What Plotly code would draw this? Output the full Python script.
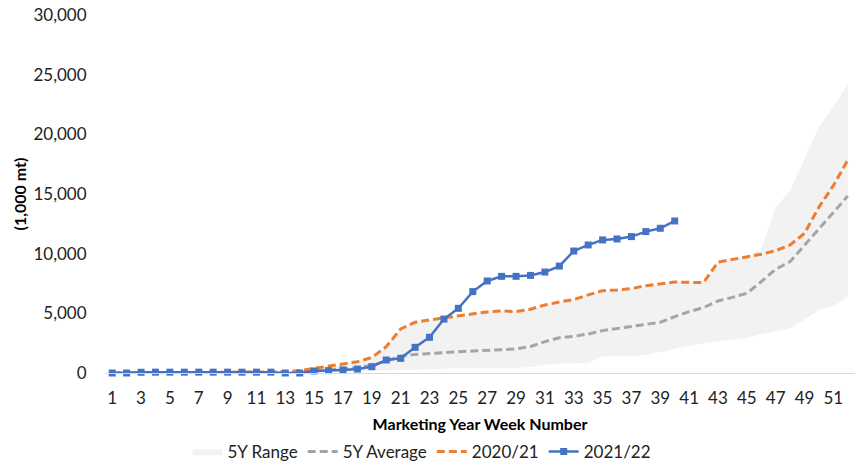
import plotly.graph_objects as go

# Marketing year weeks
weeks = list(range(1, 53))

# 5-year range (lower / upper bound), 1,000 mt
range_low = [0, 0, 0, 0, 0, 0, 0, 0, 0, 0, 0, 0, 0, 0, 50, 80, 100, 120, 150, 200,
             250, 300, 330, 350, 370, 380, 400, 420, 450, 500, 700, 800, 810, 820, 1400, 1410,
             1420, 1510, 1790, 2070, 2290, 2490, 2630, 2770, 2960, 3240, 3460, 3740, 4490, 5280,
             5620, 6400]
range_high = [0, 10, 30, 40, 40, 50, 50, 50, 60, 60, 70, 80, 100, 200, 400, 550, 800, 950, 1300, 2200,
              3700, 4250, 4450, 4620, 4780, 4920, 5120, 5200, 5150, 5350, 5700, 5950, 6150, 6550, 6900, 6960,
              7070, 7320, 7500, 7620, 7600, 7580, 9300, 9520, 9800, 10400, 13900, 15300, 17900, 20600,
              22300, 24200]

# 5-year average
avg_5y = [0, 0, 10, 20, 20, 20, 30, 30, 30, 30, 40, 40, 50, 80, 150, 250, 350, 450, 650, 1000,
          1400, 1560, 1650, 1730, 1790, 1840, 1880, 1950, 2030, 2220, 2630, 2950, 3070, 3270, 3550, 3740,
          3880, 4110, 4250, 4720, 5140, 5480, 6040, 6340, 6680, 7650, 8690, 9330, 10730, 12130,
          13530, 14840]

# 2020/21 season
my_2020 = [0, 10, 30, 40, 40, 50, 50, 50, 60, 60, 70, 80, 100, 200, 400, 550, 800, 950, 1300, 2200,
           3700, 4250, 4450, 4620, 4780, 4920, 5120, 5200, 5150, 5350, 5700, 5950, 6150, 6550, 6900, 6960,
           7070, 7320, 7500, 7620, 7600, 7580, 9300, 9520, 9750, 9950, 10250, 10730, 11700, 13900,
           15700, 17850]

# 2021/22 season (weeks 1-40)
weeks_2021 = list(range(1, 41))
my_2021 = [0, 0, 60, 70, 70, 70, 70, 70, 70, 70, 70, 70, 0, 0, 170, 200, 260, 330, 530, 1090,
           1230, 2150, 2990, 4520, 5420, 6820, 7710, 8100, 8100, 8180, 8460, 8960, 10220, 10730, 11150, 11230,
           11430, 11850, 12130, 12740]

y_ticks = [0, 5000, 10000, 15000, 20000, 25000, 30000]
x_ticks = list(range(1, 53, 2))

FONT = "Lato"

fig = go.Figure()

fig.add_trace(go.Scatter(
    x=weeks, y=range_low, mode="lines", line=dict(width=0, color="#F2F2F2"),
    showlegend=False, hoverinfo="skip"))
fig.add_trace(go.Scatter(
    x=weeks, y=range_high, mode="lines", line=dict(width=0, color="#F2F2F2"),
    fill="tonexty", fillcolor="#F2F2F2", name="5Y Range"))

fig.add_trace(go.Scatter(
    x=weeks, y=avg_5y, mode="lines", name="5Y Average",
    line=dict(color="#A5A5A5", width=3, dash="8px,4px")))

fig.add_trace(go.Scatter(
    x=weeks, y=my_2020, mode="lines", name="2020/21",
    line=dict(color="#ED7D31", width=3, dash="8px,4px")))

fig.add_trace(go.Scatter(
    x=weeks_2021, y=my_2021, mode="lines+markers", name="2021/22",
    line=dict(color="#4472C4", width=2.5),
    marker=dict(symbol="square", size=7, color="#4472C4"),
    cliponaxis=False))

fig.update_layout(
    width=861, height=463,
    margin=dict(l=105, r=6, t=15, b=90),
    paper_bgcolor="white", plot_bgcolor="white",
    font=dict(family=FONT, size=17, color="#000000"),
    showlegend=True,
    legend=dict(
        orientation="h", xref="container", yref="container",
        x=0.49, xanchor="center", y=0.024, yanchor="middle",
        font=dict(family=FONT, size=17, color="#222222"),
        bgcolor="rgba(0,0,0,0)", traceorder="normal",
    ),
    xaxis=dict(
        range=[0.5, 52.5], tickmode="array", tickvals=x_ticks,
        ticktext=[str(v) for v in x_ticks],
        showgrid=False, zeroline=False, automargin=False,
        showline=True, linecolor="#D9D9D9", linewidth=1,
        ticks="outside", ticklen=10, tickcolor="rgba(0,0,0,0)",
        tickfont=dict(family=FONT, size=17, color="#222222"),
        title=dict(text="<b>Marketing Year Week Number</b>",
                   font=dict(family=FONT, size=16, color="#000000"), standoff=11),
    ),
    yaxis=dict(
        range=[0, 30000], tickmode="array", tickvals=y_ticks,
        ticktext=[f"{v:,}" for v in y_ticks],
        showgrid=False, zeroline=False, showline=False, automargin=False,
        ticks="outside", ticklen=14, tickcolor="rgba(0,0,0,0)",
        tickfont=dict(family=FONT, size=17, color="#222222"),
        title=dict(text="<b>(1,000 mt)</b>",
                   font=dict(family=FONT, size=16, color="#000000"), standoff=2),
    ),
)

fig.write_html("out.html")
